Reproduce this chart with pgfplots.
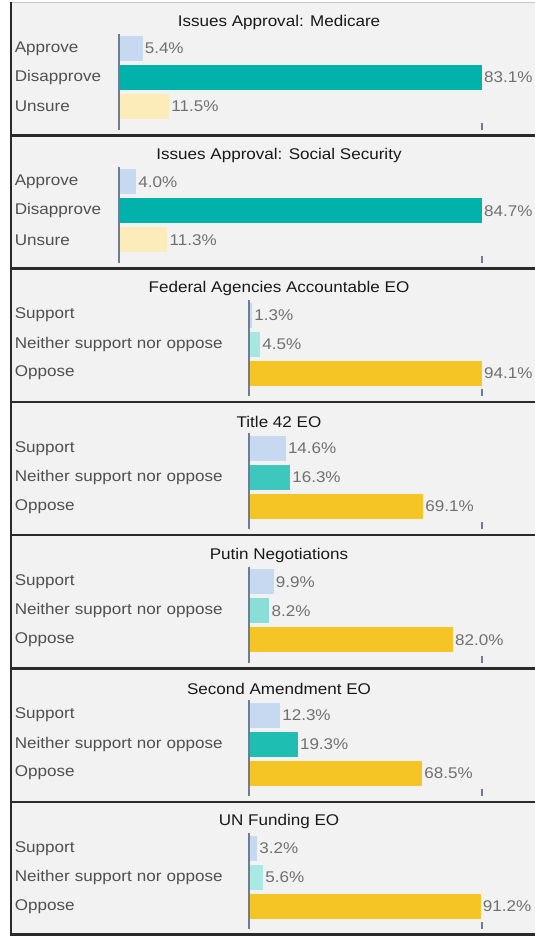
\documentclass[border=0pt]{standalone}
\usepackage{fontspec}
\setmainfont{Liberation Sans}[FakeStretch=1.1]
\usepackage{pgfplots}
\pgfplotsset{compat=1.18}
\definecolor{supblue}{HTML}{C6D9F0}
\definecolor{teal1}{HTML}{00B2A9}
\definecolor{unsure}{HTML}{FCECBA}
\definecolor{oppose}{HTML}{F5C425}
\definecolor{n3}{HTML}{A8E6E2}
\definecolor{n4}{HTML}{3EC7BC}
\definecolor{n5}{HTML}{8ADED6}
\definecolor{n6}{HTML}{1FBEB2}
\definecolor{n7}{HTML}{AAE8E3}
\definecolor{axisgray}{HTML}{6E7D91}
\definecolor{labgray}{HTML}{505050}
\definecolor{valgray}{HTML}{707070}
\definecolor{panelbg}{HTML}{F2F2F2}
\definecolor{border}{HTML}{2A2A2A}
\newcommand\F{\fontsize{15.5bp}{18bp}\selectfont}
\pgfplotsset{
  panel/.style 2 args={
    xbar, scale only axis, width=#1, height=96bp,
    y dir=reverse, ymin=-0.52, ymax=2.79, xmin=0, xmax=#2,
    axis on top,
    axis x line*=bottom, axis y line*=left,
    x axis line style={draw=none},
    y axis line style={draw=axisgray, line width=2bp},
    ytick={0,1,2}, ytick style={draw=none},
    xtick={#2}, xticklabels={},
    xtick style={draw=axisgray, line width=2bp},
    tick align=inside, major tick length=7bp,
    bar width=25bp,
    clip=false,
    point meta=x,
    nodes near coords={\pgfmathprintnumber[fixed,fixed zerofill,precision=1]{\pgfplotspointmeta}\%},
    nodes near coords align=horizontal,
    every node near coord/.append style={anchor=west, inner sep=2bp, text=valgray, font=\F},
    /pgf/number format/assume math mode=true,
  },
  labw/.style={yticklabel style={anchor=east, align=left, text width=#1, inner sep=0pt, text=labgray, font=\F}},
  b/.style={fill=#1, draw=none, bar shift=0pt},
}
\begin{document}
\begin{tikzpicture}
\clip (0,0) rectangle (535bp,-936bp);
\fill[white] (0,0) rectangle (535bp,-936bp);
\fill[panelbg] (11bp,-2bp) rectangle (545bp,-935bp);
\draw[gray!45, line width=1bp] (11bp,-2bp) -- (545bp,-2bp);
\foreach \t in {135.3,268.6,401.9,535.2,668.5,801.8,934.5}
  \draw[border, line width=2.5bp] (10bp,-\t bp) -- (545bp,-\t bp);
\draw[border, line width=2bp] (11bp,-1.5bp) -- (11bp,-936bp);

% Panel 1
\begin{axis}[panel={363bp}{83.1}, labw={104bp}, at={(119bp,-129.5bp)}, anchor=south west,
  yticklabels={Approve,Disapprove,Unsure}]
\addplot[b=supblue] coordinates {(5.4,0)};
\addplot[b=teal1] coordinates {(83.1,1)};
\addplot[b=unsure] coordinates {(11.5,2)};
\end{axis}
\node[font=\F, text=black!90] at (279bp,-22bp) {Issues Approval: Medicare};

% Panel 2
\begin{axis}[panel={363bp}{84.7}, labw={104bp}, at={(119bp,-262.8bp)}, anchor=south west,
  yticklabels={Approve,Disapprove,Unsure}]
\addplot[b=supblue] coordinates {(4.0,0)};
\addplot[b=teal1] coordinates {(84.7,1)};
\addplot[b=unsure] coordinates {(11.3,2)};
\end{axis}
\node[font=\F, text=black!90] at (279bp,-155.3bp) {Issues Approval: Social Security};

% Panel 3
\begin{axis}[panel={233bp}{94.1}, labw={234bp}, at={(249bp,-396.1bp)}, anchor=south west,
  yticklabels={Support,Neither support nor oppose,Oppose}]
\addplot[b=supblue] coordinates {(1.3,0)};
\addplot[b=n3] coordinates {(4.5,1)};
\addplot[b=oppose] coordinates {(94.1,2)};
\end{axis}
\node[font=\F, text=black!90] at (279bp,-288.6bp) {Federal Agencies Accountable EO};

% Panel 4
\begin{axis}[panel={233bp}{92.4}, labw={234bp}, at={(249bp,-529.4bp)}, anchor=south west,
  yticklabels={Support,Neither support nor oppose,Oppose}]
\addplot[b=supblue] coordinates {(14.6,0)};
\addplot[b=n4] coordinates {(16.3,1)};
\addplot[b=oppose] coordinates {(69.1,2)};
\end{axis}
\node[font=\F, text=black!90] at (279bp,-421.9bp) {Title 42 EO};

% Panel 5
\begin{axis}[panel={233bp}{93.7}, labw={234bp}, at={(249bp,-662.7bp)}, anchor=south west,
  yticklabels={Support,Neither support nor oppose,Oppose}]
\addplot[b=supblue] coordinates {(9.9,0)};
\addplot[b=n5] coordinates {(8.2,1)};
\addplot[b=oppose] coordinates {(82.0,2)};
\end{axis}
\node[font=\F, text=black!90] at (279bp,-555.2bp) {Putin Negotiations};

% Panel 6
\begin{axis}[panel={233bp}{92.1}, labw={234bp}, at={(249bp,-796.0bp)}, anchor=south west,
  yticklabels={Support,Neither support nor oppose,Oppose}]
\addplot[b=supblue] coordinates {(12.3,0)};
\addplot[b=n6] coordinates {(19.3,1)};
\addplot[b=oppose] coordinates {(68.5,2)};
\end{axis}
\node[font=\F, text=black!90] at (279bp,-688.5bp) {Second Amendment EO};

% Panel 7
\begin{axis}[panel={233bp}{91.7}, labw={234bp}, at={(249bp,-929.3bp)}, anchor=south west,
  yticklabels={Support,Neither support nor oppose,Oppose}]
\addplot[b=supblue] coordinates {(3.2,0)};
\addplot[b=n7] coordinates {(5.6,1)};
\addplot[b=oppose] coordinates {(91.2,2)};
\end{axis}
\node[font=\F, text=black!90] at (279bp,-821.8bp) {UN Funding EO};
\end{tikzpicture}
\end{document}
